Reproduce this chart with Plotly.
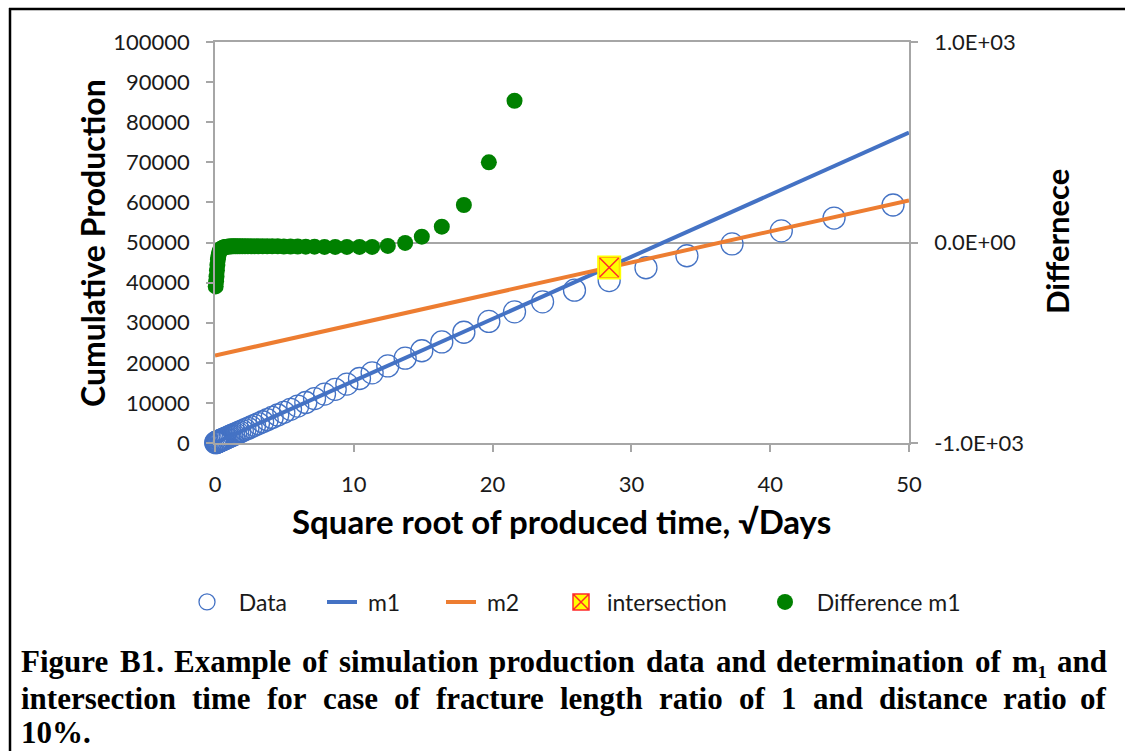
import plotly.graph_objects as go

# ---------------- data ----------------
sqrt_days = [0.05, 0.08, 0.11, 0.14, 0.17, 0.21, 0.25, 0.30, 0.35, 0.41, 0.47, 0.54,
             0.62, 0.70, 0.79, 0.88, 0.98, 1.09, 1.21, 1.34, 1.48, 1.63, 1.79, 1.97,
             2.16, 2.37, 2.60, 2.85, 3.13, 3.43, 3.76, 4.12, 4.52, 4.96, 5.44, 5.96,
             6.54, 7.17, 7.89, 8.66, 9.50, 10.41, 11.32, 12.45, 13.70, 14.90, 16.34,
             17.93, 19.73, 21.58, 23.60, 25.90, 28.40, 31.05, 34.00, 37.25, 40.80,
             44.60, 48.85]
cum_prod = [80, 120, 170, 220, 260, 320, 390, 460, 540, 630, 730, 830,
            960, 1080, 1220, 1360, 1510, 1680, 1870, 2070, 2290, 2520, 2770, 3040,
            3340, 3660, 4020, 4400, 4840, 5300, 5810, 6370, 6980, 7660, 8400, 9210,
            10100, 11080, 12190, 13380, 14680, 16080, 17490, 19230, 21160, 23010, 25200,
            27620, 30320, 32700, 35200, 38100, 40500, 43700, 46700, 49650, 52900,
            56100, 59350]

diff_x = [0.05, 0.08, 0.11, 0.14, 0.17, 0.21, 0.25, 0.30, 0.35, 0.41, 0.47, 0.54,
          0.62, 0.70, 0.79, 0.88, 0.98, 1.09, 1.21, 1.34, 1.48, 1.63, 1.79, 1.97,
          2.16, 2.37, 2.60, 2.85, 3.13, 3.43, 3.76, 4.12, 4.52, 4.96, 5.44, 5.96,
          6.54, 7.17, 7.89, 8.66, 9.50, 10.41, 11.32, 12.45, 13.70, 14.90, 16.34,
          17.93, 19.73, 21.58]
diff_m1 = [-219, -195, -170, -140, -112, -85, -65, -50, -40, -34, -30, -27,
           -25, -23, -22, -21, -20, -20, -19, -19, -19, -19, -19, -19,
           -19, -19, -19, -19, -19, -19, -19, -19, -19, -20, -20, -20,
           -21, -21, -22, -22, -22, -22, -22, -17, -2, 29, 79,
           187, 400, 707]

m1_x = [0, 50]
m1_y = [0, 77400]
m2_x = [0, 50]
m2_y = [21800, 60500]

inter_x = [28.4]
inter_y = [43750]

x_ticks = [0, 10, 20, 30, 40, 50]
y_ticks = [0, 10000, 20000, 30000, 40000, 50000, 60000, 70000, 80000, 90000, 100000]
y_tick_labels = [str(v) for v in y_ticks]
y2_ticks = [-1000, 0, 1000]
y2_labels = ["-1.0E+03", "0.0E+00", "1.0E+03"]

# caption, split into justified word groups
caption_lines = [
    ["Figure", "B1.", "Example", "of", "simulation", "production", "data", "and",
     "determination", "of", "m\u2081", "and"],
    ["intersection", "time", "for", "case", "of", "fracture", "length", "ratio", "of",
     "1", "and", "distance", "ratio", "of"],
    ["10%."],
]
caption_justified = [True, True, False]

# ---------------- geometry helpers ----------------
W, H = 1125, 751
L, R, T, B = 215, 909, 42, 443


def px(x):
    return (x - L) / (R - L)


def py(y):
    return (B - y) / (B - T)


BLUE = "#4472C4"
ORANGE = "#ED7D31"
GREEN = "#008000"
AXIS = "#A6A6A6"
TXT = "#1a1a1a"
FONT = "Lato"

fig = go.Figure()

fig.add_trace(go.Scatter(
    x=sqrt_days, y=cum_prod, mode="markers", name="\u00a0\u00a0Data", cliponaxis=False,
    legend="legend",
    marker=dict(symbol="circle-open", size=22, color=BLUE, line=dict(width=1.3, color=BLUE)),
))
fig.add_trace(go.Scatter(
    x=m1_x, y=m1_y, mode="lines", name="\u00a0m1", legend="legend2",
    line=dict(color=BLUE, width=4),
))
fig.add_trace(go.Scatter(
    x=m2_x, y=m2_y, mode="lines", name="\u00a0m2", legend="legend3",
    line=dict(color=ORANGE, width=4),
))
fig.add_trace(go.Scatter(
    x=inter_x, y=inter_y, mode="markers", name="\u00a0intersection", cliponaxis=False,
    legend="legend4",
    marker=dict(symbol="square-x", size=21, color="#FFFF00", line=dict(width=1.5, color="#FF2A2A")),
))
fig.add_trace(go.Scatter(
    x=inter_x, y=inter_y, mode="markers", showlegend=False, cliponaxis=False, hoverinfo="skip",
    marker=dict(symbol="square-open", size=22, color="#FFFF00", line=dict(width=2, color="#FFFF00")),
))
fig.add_trace(go.Scatter(
    x=diff_x, y=diff_m1, mode="markers", name="\u00a0\u00a0Difference m1", yaxis="y2",
    cliponaxis=False, legend="legend5",
    marker=dict(symbol="circle", size=16, color=GREEN),
))

tickfont = dict(family=FONT, size=22, color=TXT)
legfont = dict(family=FONT, size=23, color=TXT)
LEG_Y = py(602)


def leg(xpx):
    return dict(orientation="h", x=px(xpx), xanchor="left", y=LEG_Y, yanchor="middle",
                font=legfont, bgcolor="rgba(0,0,0,0)", borderwidth=0)


fig.update_layout(
    width=W, height=H,
    margin=dict(l=L, r=W - R, t=T, b=H - B, pad=0),
    paper_bgcolor="white", plot_bgcolor="white",
    showlegend=True,
    legend=leg(187), legend2=leg(322), legend3=leg(441), legend4=leg(561), legend5=leg(765),
    xaxis=dict(range=[0, 50], tickvals=x_ticks, showgrid=False, zeroline=False,
               showline=True, linecolor=AXIS, linewidth=1.5, mirror=True,
               ticks="outside", ticklen=7, tickcolor=AXIS, tickwidth=1.5,
               tickfont=tickfont, ticklabelstandoff=14),
    yaxis=dict(range=[0, 100000], tickvals=y_ticks, ticktext=y_tick_labels,
               showgrid=False, zeroline=False,
               showline=True, linecolor=AXIS, linewidth=1.5,
               ticks="outside", ticklen=7, tickcolor=AXIS, tickwidth=1.5,
               tickfont=tickfont, ticklabelstandoff=12),
    yaxis2=dict(range=[-1000, 1000], tickvals=y2_ticks, ticktext=y2_labels,
                overlaying="y", side="right", showgrid=False,
                zeroline=True, zerolinecolor=AXIS, zerolinewidth=1.5,
                showline=True, linecolor=AXIS, linewidth=1.5,
                ticks="outside", ticklen=7, tickcolor=AXIS, tickwidth=1.5,
                tickfont=tickfont, ticklabelstandoff=12),
)

annotations = [
    dict(text="<b>Cumulative Production</b>", x=px(92), y=py(243), textangle=-90,
         font=dict(family=FONT, size=32, color="black")),
    dict(text="<b>Square root of produced time, \u221aDays</b>", x=px(561), y=py(521),
         font=dict(family=FONT, size=33, color="black")),
    dict(text="<b>Differnece</b>", x=px(1057), y=py(242), textangle=-90,
         font=dict(family=FONT, size=31, color="black")),
]

# --- justified caption (Times-Bold advance widths, per 1000 em) ---
TB = {' ': 250, '.': 250, ',': 250, '%': 1000, 'B': 667, 'E': 667, 'F': 611,
      'a': 500, 'b': 556, 'c': 444, 'd': 556, 'e': 444, 'f': 333, 'g': 500, 'h': 556,
      'i': 278, 'j': 333, 'k': 556, 'l': 278, 'm': 833, 'n': 556, 'o': 500, 'p': 556,
      'q': 556, 'r': 444, 's': 389, 't': 333, 'u': 556, 'v': 500, 'w': 722, 'x': 500,
      'y': 500, 'z': 444, '\u2081': 350}
CAP_SIZE = 31
CAP_L, CAP_R = 20, 1108
CAP_HALF = 19  # half of the single-line box height used for top anchoring


def word_width(w):
    return sum(TB.get(c, 500) for c in w) * CAP_SIZE / 1000.0


cap_y = [662, 699, 733]
cap_font = dict(family="Liberation Serif", size=CAP_SIZE, color="black")
for words, yy, just in zip(caption_lines, cap_y, caption_justified):
    ytop = py(yy - CAP_HALF)
    if not just:
        annotations.append(dict(text="<b>" + " ".join(words) + "</b>", x=px(CAP_L), y=ytop,
                                xanchor="left", yanchor="top", font=cap_font))
        continue
    widths = [word_width(w) for w in words]
    gap = (CAP_R - CAP_L - sum(widths)) / (len(words) - 1)
    xcur = CAP_L
    for i, (w, ww) in enumerate(zip(words, widths)):
        if i == len(words) - 1:
            annotations.append(dict(text="<b>" + w + "</b>", x=px(CAP_R), y=ytop,
                                    xanchor="right", yanchor="top", font=cap_font))
        else:
            annotations.append(dict(text="<b>" + w + "</b>", x=px(xcur), y=ytop,
                                    xanchor="left", yanchor="top", font=cap_font))
        xcur += ww + gap

for a in annotations:
    a.update(xref="paper", yref="paper", showarrow=False,
             yanchor=a.get("yanchor", "middle"),
             xanchor=a.get("xanchor", "center"), borderpad=0)
fig.update_layout(annotations=annotations)

fig.update_layout(shapes=[
    dict(type="line", xref="paper", yref="paper", x0=px(9), x1=px(1130), y0=py(9), y1=py(9),
         line=dict(color="black", width=2.5)),
    dict(type="line", xref="paper", yref="paper", x0=px(10), x1=px(10), y0=py(8), y1=py(760),
         line=dict(color="black", width=2.5)),
])

fig.write_html("out.html")
